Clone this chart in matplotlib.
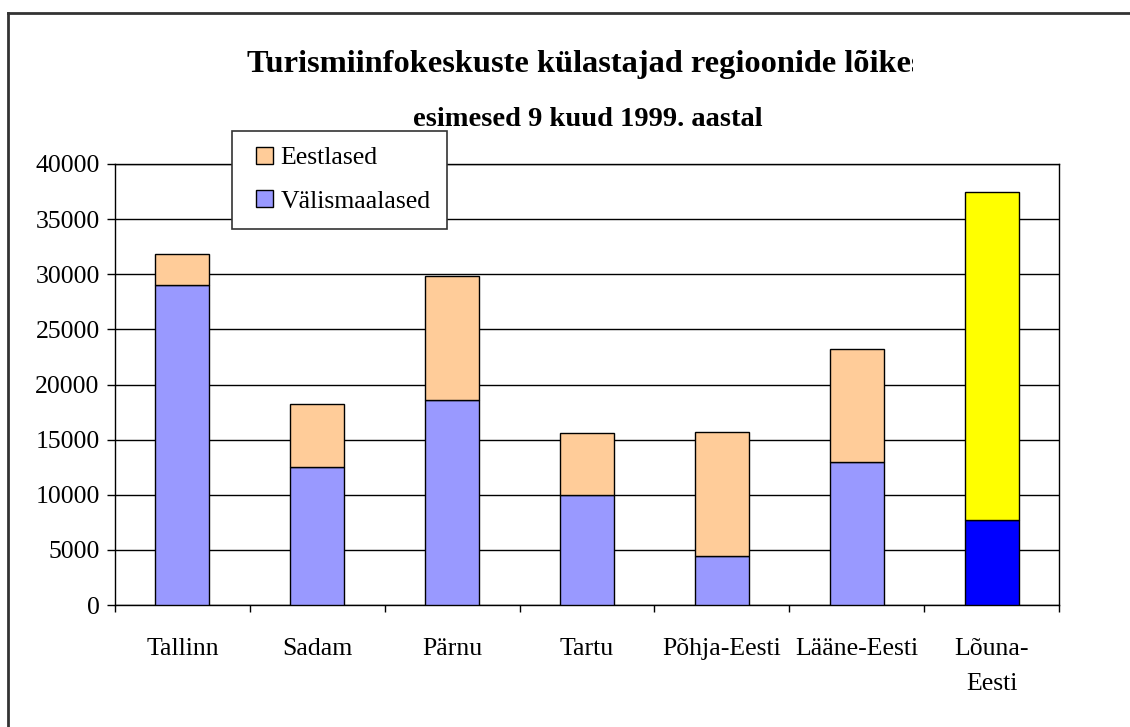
import matplotlib
matplotlib.use("Agg")
import matplotlib.pyplot as plt
from matplotlib.patches import Patch, Rectangle
from matplotlib.lines import Line2D
from matplotlib.transforms import Bbox
from matplotlib.legend_handler import HandlerPatch

categories = ["Tallinn", "Sadam", "Pärnu", "Tartu", "Põhja-Eesti", "Lääne-Eesti", "Lõuna-\nEesti"]
valismaalased = [29000, 12500, 18550, 10000, 4430, 12970, 7730]
eestlased = [2800, 5700, 11300, 5640, 11240, 10210, 29720]
title_line1 = "Turismiinfokeskuste külastajad regioonide lõikes"
title_line2 = "esimesed 9 kuud 1999. aastal"
yticks = [0, 5000, 10000, 15000, 20000, 25000, 30000, 35000, 40000]

c_val = "#9999FF"
c_eest = "#FFCC99"
c_val_hl = "#0000FF"
c_eest_hl = "#FFFF00"

plt.rcParams['font.family'] = ['Liberation Serif', 'DejaVu Serif']

W, H = 1130, 727
fig = plt.figure(figsize=(W / 100, H / 100), dpi=100)
ax = fig.add_axes([115 / W, 1 - 605 / H, (1059 - 115) / W, (605 - 164) / H])

x = list(range(len(categories)))
cols_v = [c_val] * (len(categories) - 1) + [c_val_hl]
cols_e = [c_eest] * (len(categories) - 1) + [c_eest_hl]
ax.bar(x, valismaalased, width=0.4, color=cols_v, edgecolor="black", linewidth=1, zorder=3)
ax.bar(x, eestlased, bottom=valismaalased, width=0.4, color=cols_e, edgecolor="black", linewidth=1, zorder=3)

ax.set_xlim(-0.5, len(categories) - 0.5)
ax.set_ylim(0, 40000)
ax.set_yticks(yticks)
ax.set_yticklabels([str(v) for v in yticks], fontsize=18.5)
ax.yaxis.grid(True, color="black", linewidth=1, zorder=0)
ax.set_axisbelow(True)

ax.set_xticks(x)
ax.set_xticklabels(categories, fontsize=18.5, linespacing=1.75, va="top")
ax.set_xticks([i - 0.5 for i in range(len(categories) + 1)], minor=True)
ax.tick_params(axis="x", which="major", length=0, pad=24)
ax.tick_params(axis="x", which="minor", length=5, width=1, direction="out")
ax.tick_params(axis="y", length=6, width=1, direction="out", pad=5)
for s in ax.spines.values():
    s.set_linewidth(1)
    s.set_color("black")

t1 = fig.text(585 / W, 1 - 72 / H, title_line1, ha="center", va="baseline",
              fontsize=23.3, fontweight="bold")
t1.set_clip_box(Bbox.from_extents(0, 0, 913, H))
t1.set_clip_on(True)
fig.text(588 / W, 1 - 126 / H, title_line2, ha="center", va="baseline",
         fontsize=20.5, fontweight="bold")


def square_right(legend, orig_handle, xdescent, ydescent, width, height, fontsize):
    side = height
    return Rectangle((-xdescent + width - side, -ydescent), side, side)


handles = [Patch(facecolor=c_eest, edgecolor="black", linewidth=1),
           Patch(facecolor=c_val, edgecolor="black", linewidth=1)]
leg = fig.legend(handles, ["Eestlased", "Välismaalased"], loc="upper left",
                 bbox_to_anchor=(232 / W, 1 - 131 / H), bbox_transform=fig.transFigure,
                 fontsize=18.5, frameon=True, fancybox=False, shadow=False,
                 borderaxespad=0, borderpad=0.62, labelspacing=0.82,
                 handlelength=0.97, handleheight=0.62, handletextpad=0.3,
                 handler_map={Patch: HandlerPatch(patch_func=square_right)})
leg.get_frame().set_edgecolor("#333333")
leg.get_frame().set_linewidth(1.2)
leg.get_frame().set_facecolor("white")
leg.get_frame().set_alpha(1)

# outer chart frame (extends beyond the right and bottom edges)
fig.add_artist(Line2D([8 / W, 8 / W], [0, 1 - 13 / H], transform=fig.transFigure, color="#333333", linewidth=2))
fig.add_artist(Line2D([8 / W, 1], [1 - 13 / H, 1 - 13 / H], transform=fig.transFigure, color="#333333", linewidth=2))

fig.savefig("out.png", dpi=100, facecolor="white")
